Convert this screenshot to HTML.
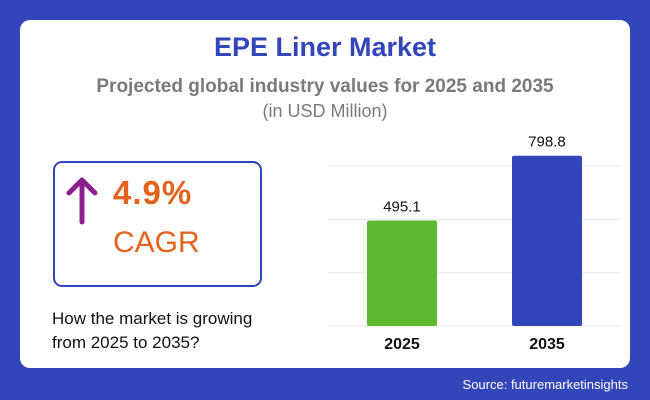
<!DOCTYPE html>
<html><head><meta charset="utf-8"><style>
body{margin:0;width:650px;height:400px;background:#3346b9;font-family:"Liberation Sans",sans-serif;position:relative;overflow:hidden}
.card{position:absolute;left:20px;top:20px;width:610px;height:348px;background:#fff;border-radius:10px}
.abs{position:absolute;white-space:nowrap}
</style></head><body>
<div class="card"></div>
<div class="abs" style="left:0;width:650px;text-align:center;top:32px;font-size:27px;font-weight:bold;color:#3346b9">EPE Liner Market</div>
<div class="abs" style="left:0;width:650px;text-align:center;top:76px;font-size:19px;font-weight:bold;color:#7a7a7a">Projected global industry values for 2025 and 2035</div>
<div class="abs" style="left:0;width:650px;text-align:center;top:101px;font-size:18px;color:#7a7a7a">(in USD Million)</div>
<div class="abs" style="left:53px;top:161px;width:205px;height:122px;border:2px solid #3346b9;border-radius:9px"></div>
<svg class="abs" style="left:60px;top:170px" width="40" height="60"><path d="M22 52V10M9 23L22 10L35 23" stroke="#8b1f8f" stroke-width="5" fill="none" stroke-linecap="round" stroke-linejoin="round"/></svg>
<div class="abs" style="left:113px;top:174px;font-size:33px;font-weight:bold;color:#e3631c;letter-spacing:1px">4.9%</div>
<div class="abs" style="left:113px;top:226px;font-size:30px;color:#e3631c">CAGR</div>
<div class="abs" style="left:52px;top:307px;font-size:17px;line-height:24px;color:#111">How the market is growing<br>from 2025 to 2035?</div>
<svg class="abs" style="left:0;top:0" width="650" height="400" id="chart"></svg>
<div class="abs" style="right:22px;top:377px;font-size:13px;color:#fff">Source: futuremarketinsights</div>
<script>
const categories=["2025","2035"];
const values=[495.1,798.8];
const valueLabels=["495.1","798.8"];
const ticks=[0,250,500,750];
const colors=["#5eb92e","#3346b9"];
const svg=document.getElementById('chart');const NS="http://www.w3.org/2000/svg";
const y=v=>326-v*(53.3/250);
const xc=i=>402+i*145;
ticks.forEach(t=>{const l=document.createElementNS(NS,'line');


l.setAttribute('x1',328);l.setAttribute('x2',620);l.setAttribute('y1',y(t));l.setAttribute('y2',y(t));l.setAttribute('stroke','#f0e6e6');l.setAttribute('stroke-width',1);svg.appendChild(l);});
categories.forEach((c,i)=>{
const r=document.createElementNS(NS,'rect');


r.setAttribute('x',xc(i)-35);r.setAttribute('width',70);r.setAttribute('y',y(values[i]));r.setAttribute('height',326-y(values[i]));r.setAttribute('rx',2);r.setAttribute('fill',colors[i]);svg.appendChild(r);
const t=document.createElementNS(NS,'text');


t.setAttribute('x',xc(i));t.setAttribute('y',y(values[i])-9);t.setAttribute('text-anchor','middle');t.setAttribute('font-size','15');t.setAttribute('fill','#111');t.textContent=valueLabels[i];svg.appendChild(t);
const a=document.createElementNS(NS,'text');


a.setAttribute('x',xc(i));a.setAttribute('y',349);a.setAttribute('text-anchor','middle');a.setAttribute('font-size','16');a.setAttribute('font-weight','bold');a.setAttribute('fill','#111');a.textContent=c;svg.appendChild(a);
});
</script>
</body></html>
